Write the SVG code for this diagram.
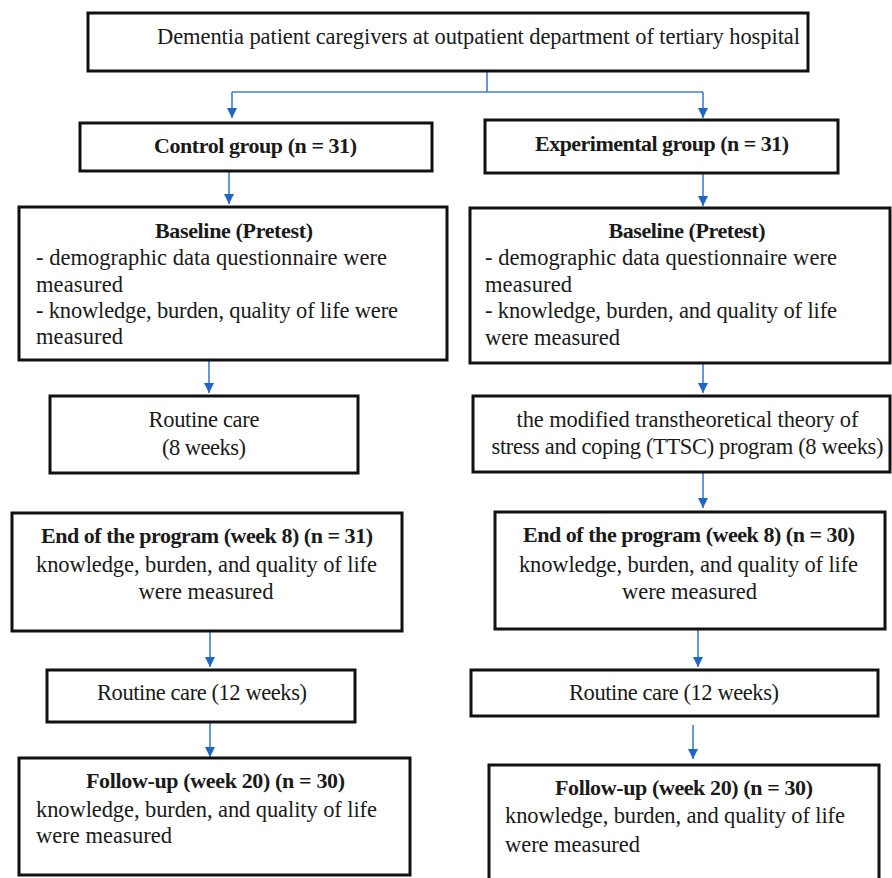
<svg xmlns="http://www.w3.org/2000/svg" width="892" height="878" viewBox="0 0 892 878">
<style>
.box{fill:#fff;stroke:#111;stroke-width:3}
text{font-family:"Liberation Serif","Times New Roman",serif;font-size:22.5px;fill:#1a1a1a}
.b{font-weight:bold;font-size:22px}
.c{text-anchor:middle}
.conn{stroke:#3f7fcf;stroke-width:1.6;fill:none}
</style>
<defs>
<marker id="ah" viewBox="0 0 10 10" refX="10" refY="5" markerWidth="10" markerHeight="10" markerUnits="userSpaceOnUse" orient="auto">
<path d="M0,0 L10,5 L0,10 z" fill="#1f66c4"/>
</marker>
</defs>
<rect width="892" height="878" fill="#fff"/>
<g id="connectors">
<path class="conn" d="M487,71 V92 M232,92 H703"/>
<path class="conn" d="M232,92 V118" marker-end="url(#ah)"/>
<path class="conn" d="M703,92 V118" marker-end="url(#ah)"/>
<path class="conn" d="M229,171 V204" marker-end="url(#ah)"/>
<path class="conn" d="M703,173 V206" marker-end="url(#ah)"/>
<path class="conn" d="M209,360 V393" marker-end="url(#ah)"/>
<path class="conn" d="M703,363 V393" marker-end="url(#ah)"/>
<path class="conn" d="M703,472 V508" marker-end="url(#ah)"/>
<path class="conn" d="M210,631 V667" marker-end="url(#ah)"/>
<path class="conn" d="M210,722 V757" marker-end="url(#ah)"/>
<path class="conn" d="M698,629 V667" marker-end="url(#ah)"/>
<path class="conn" d="M693,725 V759" marker-end="url(#ah)"/>
</g>
<g id="top">
<rect class="box" x="88" y="13" width="720" height="58"/>
<text class="c" x="478.5" y="44" font-size="22" textLength="643">Dementia patient caregivers at outpatient department of tertiary hospital</text>
</g>
<g id="control">
<rect class="box" x="80" y="123" width="352" height="48"/>
<text class="c b" x="255.5" y="153" textLength="203">Control group (n = 31)</text>
</g>
<g id="experimental">
<rect class="box" x="485" y="120" width="353" height="53"/>
<text class="c b" x="662" y="151" textLength="254">Experimental group (n = 31)</text>
</g>
<g id="baseline-control">
<rect class="box" x="19" y="207" width="428" height="153"/>
<text class="c b" x="234" y="238" textLength="158">Baseline (Pretest)</text>
<text x="36" y="265" textLength="351">-  demographic data questionnaire were</text>
<text x="36" y="292" textLength="87">measured</text>
<text x="36" y="318" textLength="362">- knowledge, burden, quality of life were</text>
<text x="36" y="344" textLength="87">measured</text>
</g>
<g id="baseline-experimental">
<rect class="box" x="470" y="208" width="420" height="155"/>
<text class="c b" x="687" y="238" textLength="157">Baseline (Pretest)</text>
<text x="485" y="265" textLength="352">-  demographic data questionnaire were</text>
<text x="485" y="292" textLength="87">measured</text>
<text x="485" y="318" textLength="352">- knowledge, burden, and quality of life</text>
<text x="485" y="345" textLength="135">were measured</text>
</g>
<g id="routine-8-control">
<rect class="box" x="50" y="396" width="308" height="77"/>
<text class="c" x="204" y="427" textLength="111">Routine care</text>
<text class="c" x="204" y="455" textLength="84">(8 weeks)</text>
</g>
<g id="ttsc-program">
<rect class="box" x="473" y="396" width="417" height="76"/>
<text class="c" x="687.5" y="427" textLength="342">the modified transtheoretical theory of</text>
<text class="c" x="687.5" y="454" textLength="392">stress and coping (TTSC) program (8 weeks)</text>
</g>
<g id="end-control">
<rect class="box" x="12" y="513" width="390" height="118"/>
<text class="c b" x="207" y="543" textLength="332">End of the program (week 8) (n = 31)</text>
<text class="c" x="206.5" y="572" textLength="341">knowledge, burden, and quality of life</text>
<text class="c" x="206" y="599" textLength="135">were measured</text>
</g>
<g id="end-experimental">
<rect class="box" x="495" y="512" width="390" height="117"/>
<text class="c b" x="689" y="542" textLength="332">End of the program (week 8) (n = 30)</text>
<text class="c" x="688.5" y="572" textLength="339">knowledge, burden, and quality of life</text>
<text class="c" x="689.5" y="599" textLength="135">were measured</text>
</g>
<g id="routine-12-control">
<rect class="box" x="47" y="670" width="308" height="52"/>
<text class="c" x="202" y="700" textLength="210">Routine care (12 weeks)</text>
</g>
<g id="routine-12-experimental">
<rect class="box" x="471" y="670" width="407" height="46"/>
<text class="c" x="674" y="700" textLength="210">Routine care (12 weeks)</text>
</g>
<g id="followup-control">
<rect class="box" x="19" y="758" width="391" height="117"/>
<text class="c b" x="215.5" y="788" textLength="259">Follow-up (week 20) (n = 30)</text>
<text x="36" y="817" textLength="341">knowledge, burden, and quality of life</text>
<text x="36" y="843" textLength="136">were measured</text>
</g>
<g id="followup-experimental">
<rect class="box" x="489" y="765" width="390" height="120"/>
<text class="c b" x="684" y="795" textLength="258">Follow-up (week 20) (n = 30)</text>
<text x="505" y="823" textLength="340">knowledge, burden, and quality of life</text>
<text x="505" y="852" textLength="135">were measured</text>
</g>
</svg>
